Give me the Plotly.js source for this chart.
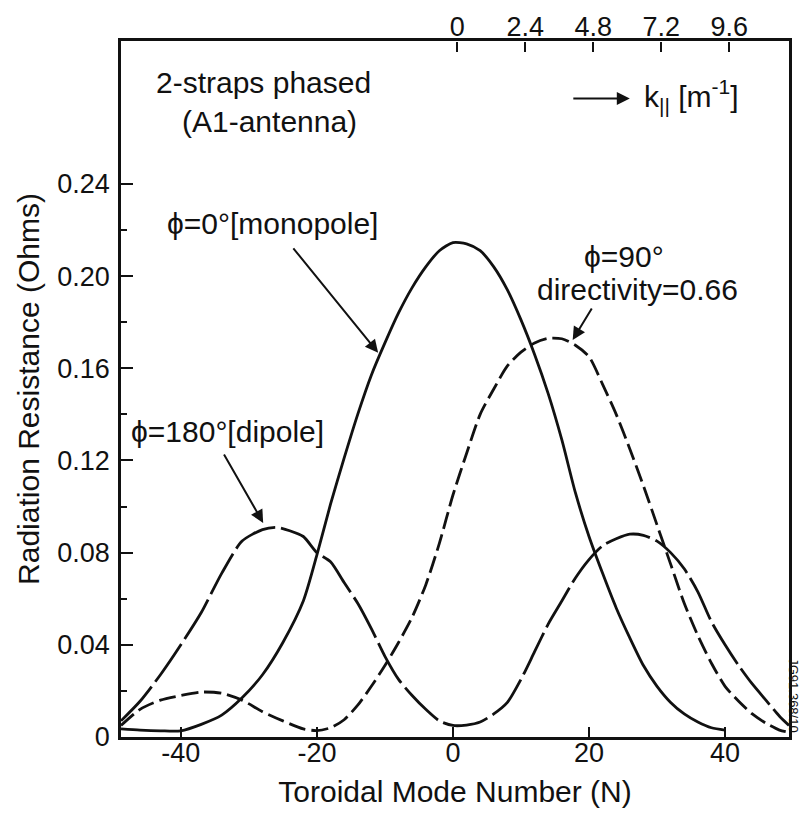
<!DOCTYPE html>
<html>
<head>
<meta charset="utf-8">
<script src="https://cdn.plot.ly/plotly-3.0.1.min.js"></script>
<style>html,body{margin:0;padding:0;background:#fff;}#chart{width:800px;height:818px;}</style>
</head>
<body>
<div id="chart"></div>
<script>
// Toroidal mode number N and radiation resistance (Ohms)
const nMono = [-48.8,-46,-43,-40,-37,-34,-31,-28,-25,-22,-20,-18,-16,-14,-12,-10,-8,-6,-4,-2,0,2,4,6,8,10,12,14,16,18,20,22,24,26,28,30,32,34,36,38,40];
const rMono = [0.0035,0.003,0.0027,0.0027,0.0055,0.0095,0.017,0.027,0.041,0.059,0.079,0.101,0.121,0.140,0.157,0.171,0.184,0.195,0.204,0.211,0.2145,0.214,0.211,0.204,0.194,0.181,0.166,0.149,0.129,0.106,0.087,0.071,0.056,0.043,0.031,0.022,0.015,0.010,0.0065,0.004,0.003];

const nDip = [-48.8,-46,-43,-40,-37,-34,-31,-28,-26,-24,-22,-20,-18,-16,-14,-12,-10,-8,-6,-4,-2,0,2,4,6,8,10,12,14,16,18,20,22,24,26,28,30,32,34,36,38,40,42,44,46,48,49.4];
const rDip = [0.007,0.0155,0.027,0.040,0.054,0.071,0.085,0.090,0.091,0.0895,0.087,0.080,0.076,0.067,0.058,0.047,0.035,0.025,0.018,0.012,0.007,0.005,0.0052,0.0065,0.010,0.015,0.025,0.037,0.049,0.059,0.069,0.077,0.083,0.086,0.088,0.0875,0.085,0.080,0.073,0.063,0.050,0.040,0.031,0.023,0.016,0.009,0.005];

const nP90 = [-48.8,-46,-43,-40,-37,-34,-31,-28,-25,-22,-20,-18,-16,-14,-12,-10,-8,-6,-4,-2,0,2,4,6,8,10,12,14,16,18,20,22,24,26,28,30,32,34,36,38,40,42,44,46,48,49.4];
const rP90 = [0.005,0.012,0.016,0.018,0.0195,0.019,0.016,0.011,0.007,0.0035,0.0028,0.004,0.0075,0.0138,0.022,0.031,0.041,0.052,0.066,0.084,0.105,0.123,0.140,0.151,0.161,0.167,0.171,0.173,0.1728,0.170,0.165,0.153,0.140,0.125,0.109,0.092,0.075,0.058,0.044,0.032,0.022,0.0155,0.010,0.006,0.003,0.002];

// axis ticks
const xTickVals = [-40,-20,0,20,40];
const xTickText = ['-40','-20','0','20','40'];
const yTickVals = [0,0.04,0.08,0.12,0.16,0.20,0.24];
const yTickText = ['0','0.04','0.08','0.12','0.16','0.20','0.24'];
const yMinorVals = [0.02,0.06,0.10,0.14,0.18,0.22];
const kTickVals = [0,2.4,4.8,7.2,9.6];
const kTickText = ['0','2.4','4.8','7.2','9.6'];
const kPerN = 0.24;

const xRange = [-48.8, 49.4];
const yRange = [0, 0.302];
const kRange = [xRange[0] * kPerN - 0.15, xRange[1] * kPerN - 0.15];
const FONT = 'Liberation Sans, Arial, Helvetica, sans-serif';
const INK = '#111';

const lineStyle = (dash) => ({color: INK, width: 2.8, shape: 'spline', smoothing: 0.7, dash: dash});

const traces = [
  {x: nMono, y: rMono, mode: 'lines', line: lineStyle('solid'), name: 'φ=0° monopole', hoverinfo: 'x+y'},
  {x: nDip, y: rDip, mode: 'lines', line: lineStyle('46px,6px'), name: 'φ=180° dipole', hoverinfo: 'x+y'},
  {x: nP90, y: rP90, mode: 'lines', line: lineStyle('17px,6px'), name: 'φ=90°', hoverinfo: 'x+y'},
  {x: kTickVals, y: kTickVals.map(() => null), xaxis: 'x2', mode: 'lines', showlegend: false, hoverinfo: 'skip'},
  {x: kTickVals, y: kTickVals.map(() => null), xaxis: 'x3', mode: 'lines', showlegend: false, hoverinfo: 'skip'}
];

const tfont = {family: FONT, size: 30, color: INK};
const ann = (text, x, y, extra) => Object.assign({text: text, x: x, y: y, xref: 'x', yref: 'y', showarrow: false, font: tfont, xanchor: 'center', yanchor: 'middle'}, extra || {});
const arrow = (x, y, ax, ay) => ({text: '', x: x, y: y, xref: 'x', yref: 'y', ax: ax, ay: ay, showarrow: true, arrowhead: 2, arrowsize: 1.3, arrowwidth: 2, arrowcolor: INK, standoff: 0});

const layout = {
  width: 800, height: 818,
  margin: {l: 121, r: 11, t: 41, b: 81},
  paper_bgcolor: '#fff', plot_bgcolor: '#fff',
  showlegend: false,
  font: {family: FONT, color: INK},
  xaxis: {
    range: xRange, showgrid: false, zeroline: false,
    showline: true, linecolor: INK, linewidth: 2.5,
    ticks: 'inside', ticklen: 10, tickwidth: 2, tickcolor: INK,
    tickmode: 'array', tickvals: xTickVals, ticktext: xTickText,
    tickfont: {family: FONT, size: 27, color: INK},
    ticklabelstandoff: -10,
    title: {text: 'Toroidal Mode Number (N)', font: tfont, standoff: 14}
  },
  // top k-parallel axis: labels
  xaxis2: {
    overlaying: 'x', side: 'top', anchor: 'y',
    range: kRange,
    showgrid: false, zeroline: false,
    showline: true, linecolor: INK, linewidth: 2.5,
    ticks: '',
    tickmode: 'array', tickvals: kTickVals, ticktext: kTickText,
    tickfont: {family: FONT, size: 27, color: INK},
    ticklabelstandoff: -9
  },
  // top k-parallel axis: tick marks pointing into the plot
  xaxis3: {
    overlaying: 'x', side: 'bottom', anchor: 'free', position: 1,
    range: kRange,
    showgrid: false, zeroline: false, showline: false,
    ticks: 'outside', ticklen: 10, tickwidth: 2, tickcolor: INK,
    tickmode: 'array', tickvals: kTickVals,
    showticklabels: false
  },
  yaxis: {
    range: yRange, showgrid: false, zeroline: false,
    showline: true, mirror: true, linecolor: INK, linewidth: 2.5,
    ticks: 'inside', ticklen: 12, tickwidth: 2, tickcolor: INK,
    tickmode: 'array', tickvals: yTickVals, ticktext: yTickText,
    minor: {tickmode: 'array', tickvals: yMinorVals, ticks: 'inside', ticklen: 6, tickwidth: 2, tickcolor: INK, showgrid: false},
    tickfont: {family: FONT, size: 27, color: INK},
    ticklabelstandoff: 3,
    title: {text: 'Radiation Resistance (Ohms)', font: tfont, standoff: 9}
  },
  annotations: [
    ann('2-straps phased', -27.9, 0.284),
    ann('(A1-antenna)', -26.9, 0.267),
    ann('ϕ=0°[monopole]', -26.6, 0.223),
    arrow(-11.0, 0.1667, -86, -106),
    ann('ϕ=90°', 25.1, 0.2083),
    ann('directivity=0.66', 27.1, 0.194),
    arrow(17.6, 0.1723, 20, -33),
    ann('ϕ=180°[dipole]', -33.1, 0.1324),
    arrow(-27.9, 0.0929, -40, -70),
    arrow(26.0, 0.277, -58, 0),
    ann('k<sub>||</sub> [m<sup>-1</sup>]', 35.1, 0.278),
    {text: 'JG91.368/10', xref: 'paper', yref: 'paper', x: 1.0075, y: 0.06, textangle: 90, showarrow: false, font: {family: FONT, size: 13, color: INK}, xanchor: 'center', yanchor: 'middle'}
  ]
};

Plotly.newPlot('chart', traces, layout, {displayModeBar: false, responsive: false});
</script>
</body>
</html>
